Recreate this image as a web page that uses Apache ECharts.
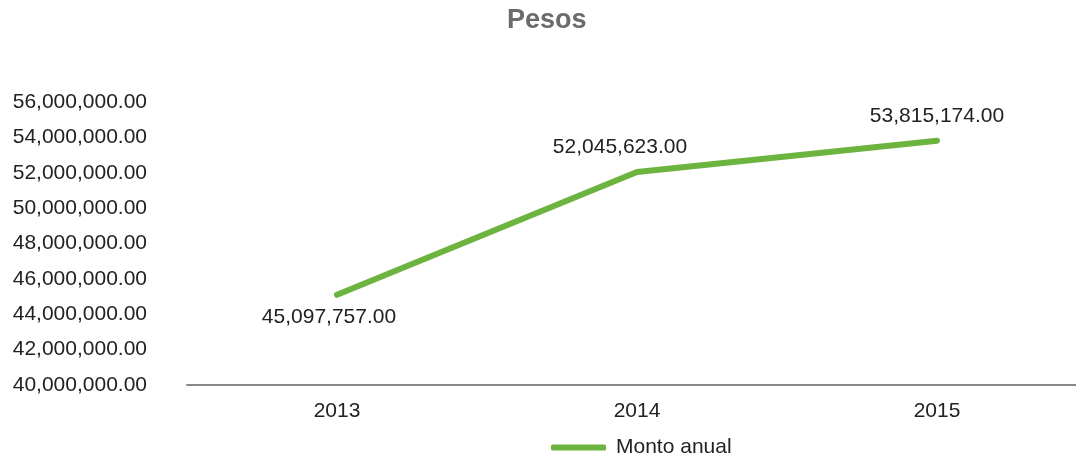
<!DOCTYPE html>
<html><head><meta charset="utf-8">
<script src="https://cdn.jsdelivr.net/npm/echarts@6/dist/echarts.min.js"></script>
<style>html,body{margin:0;padding:0;background:#fff}#c{width:1076px;height:463px}</style>
</head><body><div id="c"></div>
<script>
var categories = ['2013', '2014', '2015'];
var montoAnual = [45097757, 52045623, 53815174];
var yMin = 40000000, yMax = 56000000, yStep = 2000000;

function fmt(v){
  return Number(v).toLocaleString('en-US',{minimumFractionDigits:2,maximumFractionDigits:2});
}
var FF = 'Liberation Sans, Arial, sans-serif';
var GREEN = '#6cb33f';
var labelPos = ['bottom', 'top', 'top'];
var labelShift = [[-8, 0], [-17, 0], [0, 0]];
var chart = echarts.init(document.getElementById('c'));
chart.setOption({
  animation:false,
  textStyle:{fontFamily:FF},
  title:{text:'Pesos',left:502,top:2,textStyle:{fontSize:27,fontWeight:'bold',color:'#6b6b6b',fontFamily:FF}},
  grid:{left:187,width:900,top:102,bottom:78,containLabel:false,outerBoundsMode:'none'},
  legend:{bottom:0,left:546,itemWidth:55,itemHeight:6,itemGap:9,icon:'roundRect',
    textStyle:{fontSize:21,color:'#222',padding:[0,0,0,5]},
    data:[{name:'Monto anual',itemStyle:{color:GREEN,opacity:1}}]},
  xAxis:{type:'category',data:categories,boundaryGap:true,
    axisLine:{lineStyle:{color:'#888',width:2}},axisTick:{show:false},
    axisLabel:{fontSize:21,color:'#222',margin:16}},
  yAxis:{type:'value',min:yMin,max:yMax,interval:yStep,
    axisLine:{show:false},axisTick:{show:false},splitLine:{show:false},
    axisLabel:{fontSize:21,color:'#222',margin:40,formatter:fmt}},
  series:[{name:'Monto anual',type:'line',data:montoAnual.map(function(v,i){
      return {value:v,label:{position:labelPos[i],distance:i===0?12:14,offset:labelShift[i]}};
    }),
    showSymbol:true,symbol:'circle',symbolSize:0.1,
    lineStyle:{color:GREEN,width:6,cap:'round'},itemStyle:{color:GREEN},
    label:{show:true,fontSize:21,color:'#222',formatter:function(p){return fmt(p.value);}}
  }]
});
</script></body></html>
